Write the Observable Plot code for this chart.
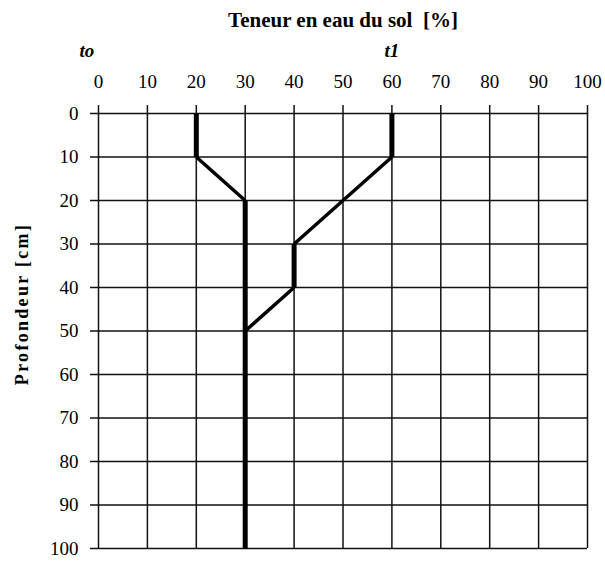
<!DOCTYPE html>
<html><head><meta charset="utf-8">
<script src="https://cdn.jsdelivr.net/npm/d3@7"></script>
<script src="https://cdn.jsdelivr.net/npm/@observablehq/plot@0.6"></script>
<style>body{margin:0;background:#fff} svg, svg text{font-family:'Liberation Serif','DejaVu Serif',serif !important}</style>
</head><body><div id="chart"></div>
<script>
const depth = [0, 10, 20, 30, 40, 50, 60, 70, 80, 90, 100];
const t0 = [20, 20, 30, 30, 30, 30, 30, 30, 30, 30, 30];
const t1 = [60, 60, 50, 40, 40, 30];
const xTicks = [0, 10, 20, 30, 40, 50, 60, 70, 80, 90, 100];
const yTicks = [0, 10, 20, 30, 40, 50, 60, 70, 80, 90, 100];
const title = "Teneur en eau du sol  [%]";
const yLabel = "Profondeur [cm]";
const seriesLabels = ["to", "t1"];

function segments(xs, name) {
  const out = [];
  for (let i = 0; i < xs.length - 1; i++) {
    out.push({series: name, x1: xs[i], y1: depth[i], x2: xs[i + 1], y2: depth[i + 1], vertical: xs[i] === xs[i + 1]});
  }
  return out;
}
const segs = [...segments(t0, "to"), ...segments(t1, "t1")];

const font = "Liberation Serif";
const chart = Plot.plot({
  width: 605, height: 562,
  marginLeft: 98, marginRight: 18, marginTop: 113, marginBottom: 14,
  style: {fontFamily: font, fontSize: "19px", color: "#000", background: "#fff"},
  x: {domain: [0, 100]},
  y: {domain: [0, 100], reverse: true},
  marks: [
    Plot.gridX(xTicks, {stroke: "#111", strokeOpacity: 1, strokeWidth: 1.5}),
    Plot.gridY(yTicks, {stroke: "#111", strokeOpacity: 1, strokeWidth: 1.5}),
    Plot.axisX(xTicks, {anchor: "top", tickSize: 9, tickPadding: 17, label: null, stroke: "#111", strokeWidth: 1.5, fontSize: 19, fontFamily: font}),
    Plot.axisY(yTicks, {anchor: "left", tickSize: 8, tickPadding: 12, label: null, stroke: "#111", strokeWidth: 1.5, fontSize: 19, fontFamily: font}),
    Plot.link(segs, {x1: "x1", y1: "y1", x2: "x2", y2: "y2", stroke: "#000", strokeWidth: d => d.vertical ? 5 : 3.5, strokeLinecap: "butt"}),
    Plot.text([title], {frameAnchor: "top", dy: -101, text: d => d, fontWeight: "bold", fontSize: 21, textAnchor: "middle", fontFamily: font}),
    Plot.text([seriesLabels[0]], {frameAnchor: "top-left", dx: -19, dy: -70, text: d => d, fontWeight: "bold", fontStyle: "italic", fontSize: 19, fontFamily: font}),
    Plot.text([seriesLabels[1]], {x: [60], frameAnchor: "top", dy: -70, text: d => d, fontWeight: "bold", fontStyle: "italic", fontSize: 19, fontFamily: font}),
    Plot.text([yLabel], {frameAnchor: "left", dx: -76, dy: -27, rotate: -90, textAnchor: "middle", text: d => d, fontWeight: "bold", fontSize: 18, fontFamily: font})
  ]
});
d3.select(chart).selectAll("text").filter(function () { return this.textContent === yLabel; }).style("letter-spacing", "2.3px");
document.getElementById("chart").append(chart);
</script></body></html>
